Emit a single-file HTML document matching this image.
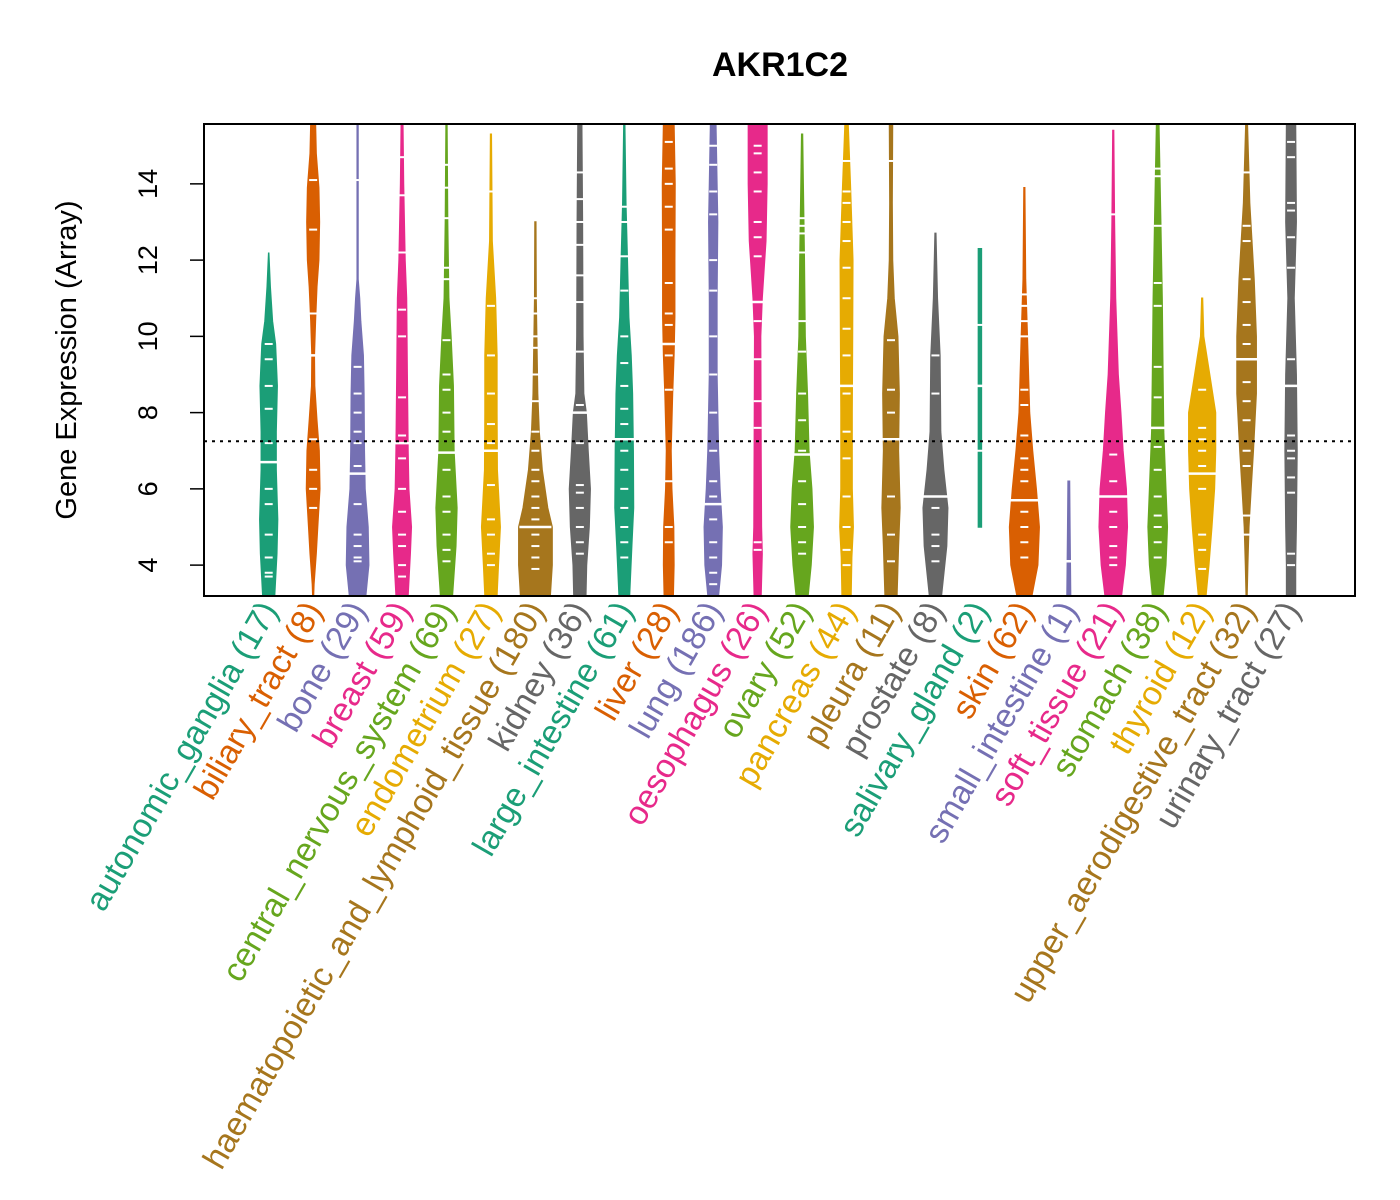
<!DOCTYPE html>
<html><head><meta charset="utf-8"><style>
html,body{margin:0;padding:0;background:#fff;}
svg{display:block;font-family:"Liberation Sans",Arial,sans-serif;}
</style></head><body>
<svg id="chart" width="1400" height="1200" viewBox="0 0 1400 1200"></svg>
<script>
const categories=["autonomic_ganglia","biliary_tract","bone","breast","central_nervous_system","endometrium","haematopoietic_and_lymphoid_tissue","kidney","large_intestine","liver","lung","oesophagus","ovary","pancreas","pleura","prostate","salivary_gland","skin","small_intestine","soft_tissue","stomach","thyroid","upper_aerodigestive_tract","urinary_tract"];
const counts=[17,8,29,59,69,27,180,36,61,28,186,26,52,44,11,8,2,62,1,21,38,12,32,27];
const medians=[6.7,9.5,6.4,7.2,6.95,7.0,5.0,8.0,7.3,9.8,5.6,10.9,6.9,8.7,7.3,5.8,8.7,5.7,4.1,5.8,7.6,6.4,9.4,8.7];
const profiles=[
[[12.2,0],[11.3,4],[10.4,10],[9.8,18],[8.7,23],[7.5,20],[6.5,20],[5.2,24],[4.3,22],[3.2,16]],
[[15.6,6],[14.8,8],[13.9,15],[13,17],[12,15],[11.3,10],[10.4,6],[9.5,3],[8.7,4],[7.8,10],[7,16],[6,18],[5,12],[4.3,8],[3.5,2],[3.2,1]],
[[15.6,1],[11.5,1],[11,5],[10.4,8],[9.5,15],[8.5,17],[7,18],[6,20],[5,28],[4,30],[3.2,22]],
[[15.6,2],[14,4],[12,8],[11,12],[9,14],[7,16],[6,18],[5,25],[4.3,22],[3.2,16]],
[[15.6,1],[13,3],[11,6],[10,12],[8.7,18],[7,20],[5.5,28],[4.5,25],[3.2,16]],
[[15.3,1],[12.5,3],[11,12],[9.5,16],[8,16],[6.5,17],[5,25],[4,20],[3.2,16]],
[[13,1],[11,2],[8.5,6],[7.5,10],[6.5,18],[5.5,33],[5,45],[4,45],[3.2,40]],
[[15.6,5],[13,7],[10,8],[8.5,10],[8,17],[7,22],[6,28],[5,25],[4,18],[3.2,16]],
[[15.6,1],[13.5,4],[12,8],[10.5,12],[9.5,18],[8.5,22],[7,24],[5.5,25],[4.5,20],[3.2,14]],
[[15.6,14],[14,17],[12,16],[10.5,16],[9.5,14],[8.5,10],[7,6],[6,8],[5,13],[4,14],[3.2,12]],
[[15.6,7],[13,12],[11,10],[9,10],[7,14],[6,18],[5,24],[4,22],[3.2,14]],
[[15.6,25],[14,25],[12.5,22],[11,12],[10,8],[7,9],[5,10],[4.3,12],[3.2,9]],
[[15.3,1],[14,3],[12,6],[10,8],[8.5,14],[7,18],[6,26],[5,30],[4,24],[3.2,16]],
[[15.6,4],[14,10],[12,17],[10,16],[8,15],[6,15],[5,18],[4.2,14],[3.2,12]],
[[15.6,4],[13.5,3],[12,4],[11,8],[10,18],[8.5,22],[7,20],[5.5,24],[4.5,20],[3.2,16]],
[[12.7,1],[11,5],[9.5,12],[7.5,14],[6.5,22],[5.5,33],[4.5,30],[3.2,16]],
[[12.3,4],[5.0,4]],
[[13.9,1],[11.5,3],[10,8],[8,14],[7,22],[6,32],[5,40],[4,36],[3.2,20]],
[[6.2,2],[5,3],[3.2,5]],
[[15.4,1],[13,3],[11,6],[9,13],[8,20],[7,26],[6,35],[5,38],[4,32],[3.2,22]],
[[15.6,3],[13,8],[11,12],[9,14],[7.5,16],[6,22],[5,26],[4,22],[3.2,14]],
[[11,1],[10,4],[9,20],[8,36],[7,36],[6,33],[5,26],[4,18],[3.2,10]],
[[15.6,2],[13.5,8],[11.5,20],[10,26],[8.5,26],[7,18],[6,12],[5,6],[4,3],[3.2,1]],
[[15.6,12],[13,14],[11,8],[9,14],[7,16],[5,14],[4,12],[3.2,12]]
];
const points=[
[9.8,9.4,8.7,8.1,7.2,6.0,5.6,4.8,4.2,3.8,3.7],
[14.1,12.8,10.6,7.3,6.0,5.5,6.5],
[14.1,9.2,8.5,8.0,7.5,7.2,6.6,5.6,4.8,4.5,4.2,4.1],
[14.7,13.7,12.2,10.7,10.0,8.4,7.4,6.8,6.0,5.4,4.8,4.5,4.0,3.7],
[14.5,13.9,13.1,11.8,11.5,9.9,9.0,8.6,8.0,7.5,6.5,5.8,5.4,4.8,4.4,4.1],
[13.8,10.8,9.5,8.5,7.7,7.2,6.1,5.2,4.8,4.3,4.0],
[11.0,10.6,10.0,9.7,9.0,8.3,7.5,7.0,6.5,6.2,5.8,5.5,5.2,4.8,4.5,4.2,3.9],
[14.3,13.6,13.0,12.4,11.6,10.9,9.6,8.2,7.2,6.1,5.9,5.5,5.0,4.6,4.3],
[13.4,13.0,12.1,11.2,10.0,9.3,8.7,8.1,7.7,7.0,6.5,6.0,5.5,5.0,4.6,4.2],
[15.1,14.4,14.0,13.4,12.8,11.4,10.6,10.3,9.5,8.6,6.2,5.0,4.6],
[15.0,14.5,13.8,13.2,12.0,11.2,10.0,9.0,8.0,7.0,6.2,5.8,5.2,4.6,4.2,3.8,3.5],
[15.0,14.8,14.3,13.8,13.0,12.6,12.1,10.4,9.4,8.3,7.6,4.6,4.4],
[13.1,12.9,12.7,12.2,10.4,9.6,8.5,7.8,7.0,6.2,5.6,5.0,4.6,4.3],
[14.6,13.8,13.5,13.0,12.5,11.8,11.0,10.2,9.5,8.5,7.5,6.8,5.8,5.0,4.4,4.0],
[14.6,9.9,8.6,8.0,7.3,5.8,4.8,4.1],
[9.5,8.5,5.5,4.8,4.5,4.1],
[10.3,7.0],
[11.1,10.8,10.4,10.0,8.6,8.2,7.4,6.8,6.5,6.2,5.4,5.0,4.6,4.2],
[4.1],
[13.2,6.9,6.2,5.4,5.0,4.5,4.2,4.0],
[14.4,14.2,12.9,11.4,10.8,9.2,8.4,7.1,6.5,5.8,5.3,5.0,4.6,4.2],
[8.6,7.6,7.3,7.0,6.6,6.0,4.8,4.4,3.9],
[14.3,12.9,12.5,11.5,10.9,10.3,9.8,9.4,8.8,8.3,7.8,7.0,6.6,5.3,4.8],
[15.1,14.7,13.5,13.3,12.6,11.8,9.4,8.7,7.4,7.0,6.8,6.3,5.9,4.3,4.0]
];
const yTicks=[4,6,8,10,12,14];
const refLine=7.25;

const palette=["#1B9E77","#D95F02","#7570B3","#E7298A","#66A61E","#E6AB02","#A6761D","#666666"];
const PL=204,PR=1355,PT=124,PB=596;
const yMin=3.19,yMax=15.57;
const X=i=>268.7+i*44.45;
const Y=v=>PB-(v-yMin)/(yMax-yMin)*(PB-PT);
const DS=18.5;
const NS="http://www.w3.org/2000/svg";
const svg=document.getElementById('chart');
function mk(tag,attrs,parent){const e=document.createElementNS(NS,tag);for(const k in attrs)e.setAttribute(k,attrs[k]);(parent||svg).appendChild(e);return e;}

const defs=mk('defs',{});
const cp=mk('clipPath',{id:'pc'},defs);
mk('rect',{x:PL,y:PT,width:PR-PL,height:PB-PT},cp);

const plot=mk('g',{'clip-path':'url(#pc)'});



categories.forEach((c,i)=>{
  const col=palette[i%8],cx=X(i);
  const g=mk('g',{},plot);
  
  
  const pr=profiles[i];
  const right=pr.map(p=>(cx+p[1]/50*DS).toFixed(1)+','+Y(p[0]).toFixed(1));
  const left=pr.slice().reverse().map(p=>(cx-p[1]/50*DS).toFixed(1)+','+Y(p[0]).toFixed(1));
  const poly=mk('polygon',{points:right.concat(left).join(' '),fill:col,stroke:col,'stroke-width':1.5},g);
  
  
  points[i].forEach(v=>{
    const t=mk('line',{x1:cx-4,x2:cx+4,y1:Y(v),y2:Y(v),stroke:'#fff','stroke-width':2},g);
    
    
  });
  const m=mk('line',{x1:cx-16,x2:cx+16,y1:Y(medians[i]),y2:Y(medians[i]),stroke:'#fff','stroke-width':2.5},g);
  
  
});

const rl=mk('line',{x1:PL,x2:PR,y1:Y(refLine),y2:Y(refLine),stroke:'#000','stroke-width':2,'stroke-dasharray':'3,5'});



const box=mk('rect',{x:PL,y:PT,width:PR-PL,height:PB-PT,fill:'none',stroke:'#000','stroke-width':2});



const ya=mk('g',{});


mk('line',{x1:PL,x2:PL,y1:Y(4),y2:Y(14),stroke:'#000','stroke-width':1.5},ya);
yTicks.forEach(v=>{
  const t=mk('line',{x1:PL-14,x2:PL,y1:Y(v),y2:Y(v),stroke:'#000','stroke-width':1.5},ya);
  
  
  const tx=mk('text',{x:0,y:0,transform:`translate(157,${Y(v)}) rotate(-90)`,'text-anchor':'middle','font-size':27},ya);
  tx.textContent=v;
  
  
});

const yt=mk('text',{transform:'translate(76,360) rotate(-90)','text-anchor':'middle','font-size':29});
yt.textContent='Gene Expression (Array)';



const tt=mk('text',{x:780,y:76,'text-anchor':'middle','font-size':34,'font-weight':'bold'});
tt.textContent='AKR1C2';



categories.forEach((c,i)=>{
  const tx=mk('text',{transform:`translate(${X(i)+10},610) rotate(-60)`,'text-anchor':'end','font-size':33.5,fill:palette[i%8]});
  tx.textContent=c+' ('+counts[i]+')';
  
  
});
</script>
</body></html>
